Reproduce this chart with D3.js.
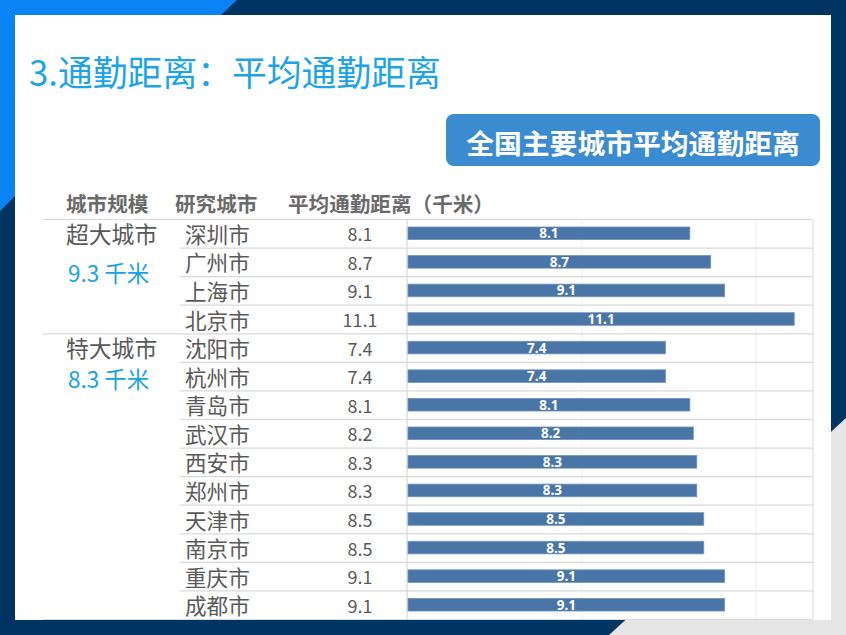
<!DOCTYPE html>
<html><head><meta charset="utf-8">
<script src="https://cdn.jsdelivr.net/npm/d3@7"></script>
<style>html,body{margin:0;padding:0;background:#fff;}svg{display:block;}</style>
</head><body>
<script>
const title = "3.通勤距离：平均通勤距离";
const buttonText = "全国主要城市平均通勤距离";
const headers = ["城市规模", "研究城市", "平均通勤距离（千米）"];
const cities = ["深圳市","广州市","上海市","北京市","沈阳市","杭州市","青岛市","武汉市","西安市","郑州市","天津市","南京市","重庆市","成都市"];
const values = [8.1, 8.7, 9.1, 11.1, 7.4, 7.4, 8.1, 8.2, 8.3, 8.3, 8.5, 8.5, 9.1, 9.1];
const groups = ["超大城市", "特大城市"];
const groupAvg = ["9.3 千米", "8.3 千米"];
const groupSizes = [4, 10];
const gridTicks = [5, 10];

const W = 846, H = 635;
const svg = d3.select("body").append("svg").attr("width", W).attr("height", H);
const FONT = "'Noto Sans CJK SC','Microsoft YaHei',sans-serif";

// background frame
svg.append("rect").attr("width", W).attr("height", H).attr("fill", "#003462");
svg.append("polygon").attr("points", "0,0 237,0 221,15 15,15 15,196 0,211").attr("fill", "#0a84f4");
svg.append("polygon").attr("points", `${W},418 ${W},${H} 609,${H}`).attr("fill", "#e6e6e6");
svg.append("rect").attr("x", 15).attr("y", 15).attr("width", 816).attr("height", 605).attr("fill", "#fff");

// title
svg.append("text").attr("x", 29).attr("y", 86).attr("font-family", FONT).attr("font-size", 34.8)
  .attr("font-weight", 400).attr("fill", "#1ba4ea").text(title);

// button
svg.append("rect").attr("x", 446).attr("y", 114).attr("width", 374).attr("height", 52).attr("rx", 8)
  .attr("fill", "#3a8bd0");
svg.append("text").attr("x", 633).attr("y", 142).attr("text-anchor", "middle").attr("dominant-baseline", "central")
  .attr("font-family", FONT).attr("font-size", 27.8).attr("font-weight", 700).attr("fill", "#fff").text(buttonText);

// scales
const y = d3.scaleBand().domain(cities).range([219, 619]).padding(0);
const x = d3.scaleLinear().domain([0, 11.64]).range([408, 813]);
const barH = 12.6;

// headers
const headerX = [66, 175, 288];
svg.selectAll("text.hdr").data(headers).join("text").attr("class", "hdr")
  .attr("x", (d, i) => headerX[i]).attr("y", 203).attr("dominant-baseline", "central")
  .attr("font-family", FONT).attr("font-size", 20.6).attr("font-weight", 700).attr("fill", "#6a6a6a").text(d => d);

// grid lines
const gridColor = "#d9d9d9";
svg.selectAll("line.grid").data(gridTicks).join("line").attr("class", "grid")
  .attr("x1", d => x(d)).attr("x2", d => x(d)).attr("y1", 219).attr("y2", 619)
  .attr("stroke", "#efefef").attr("stroke-width", 1);
svg.append("line").attr("x1", x.range()[1]).attr("x2", x.range()[1]).attr("y1", 219).attr("y2", 619)
  .attr("stroke", gridColor);
svg.append("line").attr("x1", 407).attr("x2", 407).attr("y1", 219).attr("y2", 619)
  .attr("stroke", "#cfcfcf");

// row separators
const groupStarts = [];
let acc = 0;
groupSizes.forEach(s => { groupStarts.push(acc); acc += s; });
const boundaries = cities.map((c, i) => i).concat([cities.length]);
svg.selectAll("line.sep").data(boundaries).join("line").attr("class", "sep")
  .attr("x1", i => (groupStarts.includes(i) || i === cities.length) ? 43 : 180)
  .attr("x2", x.range()[1])
  .attr("y1", i => (i < cities.length ? y(cities[i]) : y.range()[1]) + 0.5)
  .attr("y2", i => (i < cities.length ? y(cities[i]) : y.range()[1]) + 0.5)
  .attr("stroke", gridColor).attr("stroke-width", 1.2);

// group labels
groups.forEach((g, gi) => {
  const first = cities[groupStarts[gi]];
  const cy = y(first) + y.bandwidth() / 2;
  svg.append("text").attr("x", 66).attr("y", cy).attr("dominant-baseline", "central")
    .attr("font-family", FONT).attr("font-size", 22.8).attr("fill", "#595959").text(g);
  svg.append("text").attr("x", 68).attr("y", cy + (gi === 0 ? 39 : 30)).attr("dominant-baseline", "central")
    .attr("font-family", FONT).attr("font-size", 22.5).attr("fill", "#16a2e4").text(groupAvg[gi]);
});

// city names
svg.selectAll("text.city").data(cities).join("text").attr("class", "city")
  .attr("x", 185).attr("y", d => y(d) + y.bandwidth() / 2).attr("dominant-baseline", "central")
  .attr("font-family", FONT).attr("font-size", 21.6).attr("fill", "#595959").text(d => d);

// value column
svg.selectAll("text.val").data(values).join("text").attr("class", "val")
  .attr("x", 360).attr("y", (d, i) => y(cities[i]) + y.bandwidth() / 2).attr("text-anchor", "middle")
  .attr("dominant-baseline", "central")
  .attr("font-family", FONT).attr("font-size", 18).attr("fill", "#595959").text(d => d.toFixed(1));

// bars
svg.selectAll("rect.bar").data(values).join("rect").attr("class", "bar")
  .attr("x", x(0)).attr("y", (d, i) => y(cities[i]) + y.bandwidth() / 2 - barH / 2)
  .attr("width", d => x(d) - x(0)).attr("height", barH)
  .attr("fill", "#4a75a7").attr("stroke", "#6f93bd").attr("stroke-width", 0.8);
svg.selectAll("text.blab").data(values).join("text").attr("class", "blab")
  .attr("x", d => (x(0) + x(d)) / 2).attr("y", (d, i) => y(cities[i]) + y.bandwidth() / 2)
  .attr("text-anchor", "middle").attr("dominant-baseline", "central")
  .attr("font-family", "'Open Sans','Noto Sans',sans-serif").attr("font-size", 13.5).attr("font-weight", 700)
  .attr("fill", "#fff").text(d => d.toFixed(1));
</script>
</body></html>
